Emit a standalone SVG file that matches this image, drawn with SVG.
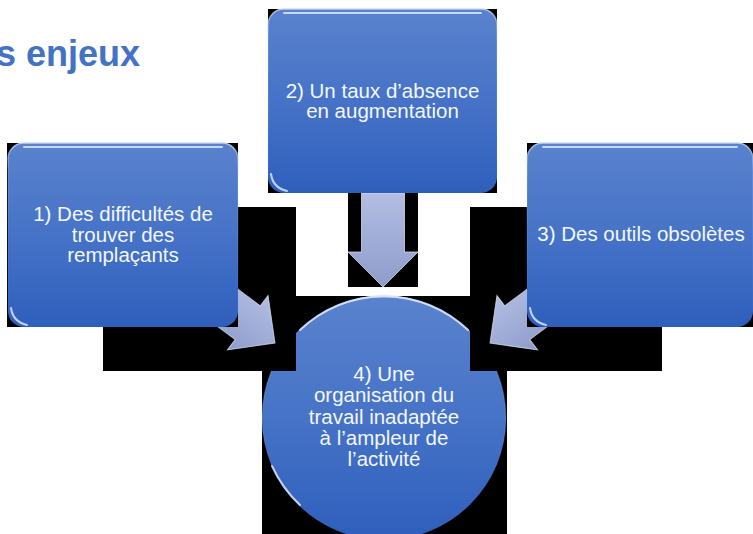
<svg xmlns="http://www.w3.org/2000/svg" width="753" height="534" viewBox="0 0 753 534">
<defs>
<linearGradient id="gBlue" x1="0" y1="0" x2="0" y2="1">
<stop offset="0" stop-color="#5A82CD"/>
<stop offset="0.5" stop-color="#4673C7"/>
<stop offset="1" stop-color="#2E5FBC"/>
</linearGradient>
<linearGradient id="gArrow" x1="0" y1="0" x2="0" y2="1">
<stop offset="0" stop-color="#B2BEE2"/>
<stop offset="1" stop-color="#8E9CCB"/>
</linearGradient>
<linearGradient id="gRim" x1="0" y1="0" x2="0" y2="1">
<stop offset="0" stop-color="#C9DAF8" stop-opacity="0.9"/>
<stop offset="0.15" stop-color="#C9DAF8" stop-opacity="0.2"/>
<stop offset="1" stop-color="#C9DAF8" stop-opacity="0"/>
</linearGradient>
<path id="arrowShape" d="M0,0 L-34,-34 L-34,-21 L-110,-21 L-110,21 L-34,21 L-34,34 Z"/>
</defs>
<style>
.bg{fill:#000}
.box{fill:url(#gBlue);stroke:url(#gRim);stroke-width:1.5}
.arrow{fill:url(#gArrow);stroke:#E2E8F7;stroke-width:1;stroke-opacity:0.7}
.hl{fill:none;stroke:#DCE6FA;stroke-width:2;stroke-linecap:round;opacity:0.85}
.lbl{font-family:"Liberation Sans",Arial,sans-serif;font-size:20.5px;fill:#F4F7FC;text-anchor:middle}
.title{font-family:"Liberation Sans",Arial,sans-serif;font-size:36px;font-weight:bold;fill:#4472C4}
</style>

<g id="title">
<text class="title" x="-4" y="66">s enjeux</text>
</g>

<g id="node-4">
<rect class="bg" x="262" y="296" width="245" height="238"/>
<circle class="box" cx="384" cy="418" r="122"/>
<path class="hl" d="M300,330 A122,122 0 0 1 468,330" opacity="0.6"/>
<path class="hl" d="M272,466 A122,122 0 0 0 300,505" opacity="0.7"/>
<text class="lbl"><tspan x="384" y="381">4) Une</tspan><tspan x="384" y="402">organisation du</tspan><tspan x="384" y="423.5">travail inadaptée</tspan><tspan x="384" y="444.5">à l’ampleur de</tspan><tspan x="384" y="465.5">l’activité</tspan></text>
</g>

<g id="connectors">
<rect class="bg" x="103" y="207" width="193" height="164"/>
<rect class="bg" x="470" y="207" width="192" height="164"/>
<rect class="bg" x="348" y="192" width="70" height="95"/>
<use href="#arrowShape" class="arrow" transform="translate(275,343) rotate(36.7)"/>
<use href="#arrowShape" class="arrow" transform="translate(490,343) scale(-1,1) rotate(36.7)"/>
<path class="arrow" d="M361.5,193 L404.5,193 L404.5,252 L418,252 L383,287 L348,252 L361.5,252 Z"/>
</g>

<g id="node-1">
<rect class="bg" x="7" y="143" width="231" height="184"/>
<rect class="box" x="8" y="143" width="230" height="184" rx="16"/>
<path class="hl" d="M24,147 L222,147"/>
<path class="hl" d="M11,308 Q13,322 27,325"/>
<text class="lbl"><tspan x="123" y="221">1) Des difficultés de</tspan><tspan x="123" y="241.5">trouver des</tspan><tspan x="123" y="262">remplaçants</tspan></text>
</g>

<g id="node-2">
<rect class="bg" x="268" y="9" width="229" height="184"/>
<rect class="box" x="268" y="9" width="229" height="184" rx="16"/>
<path class="hl" d="M284,13 L481,13"/>
<path class="hl" d="M271,174 Q273,188 287,191"/>
<text class="lbl"><tspan x="382.5" y="97.5">2) Un taux d’absence</tspan><tspan x="382.5" y="118">en augmentation</tspan></text>
</g>

<g id="node-3">
<rect class="bg" x="527" y="143" width="226" height="184"/>
<rect class="box" x="527" y="143" width="226" height="184" rx="16"/>
<path class="hl" d="M543,147 L737,147"/>
<path class="hl" d="M530,308 Q532,322 546,325"/>
<text class="lbl"><tspan x="641" y="241">3) Des outils obsolètes</tspan></text>
</g>
</svg>
